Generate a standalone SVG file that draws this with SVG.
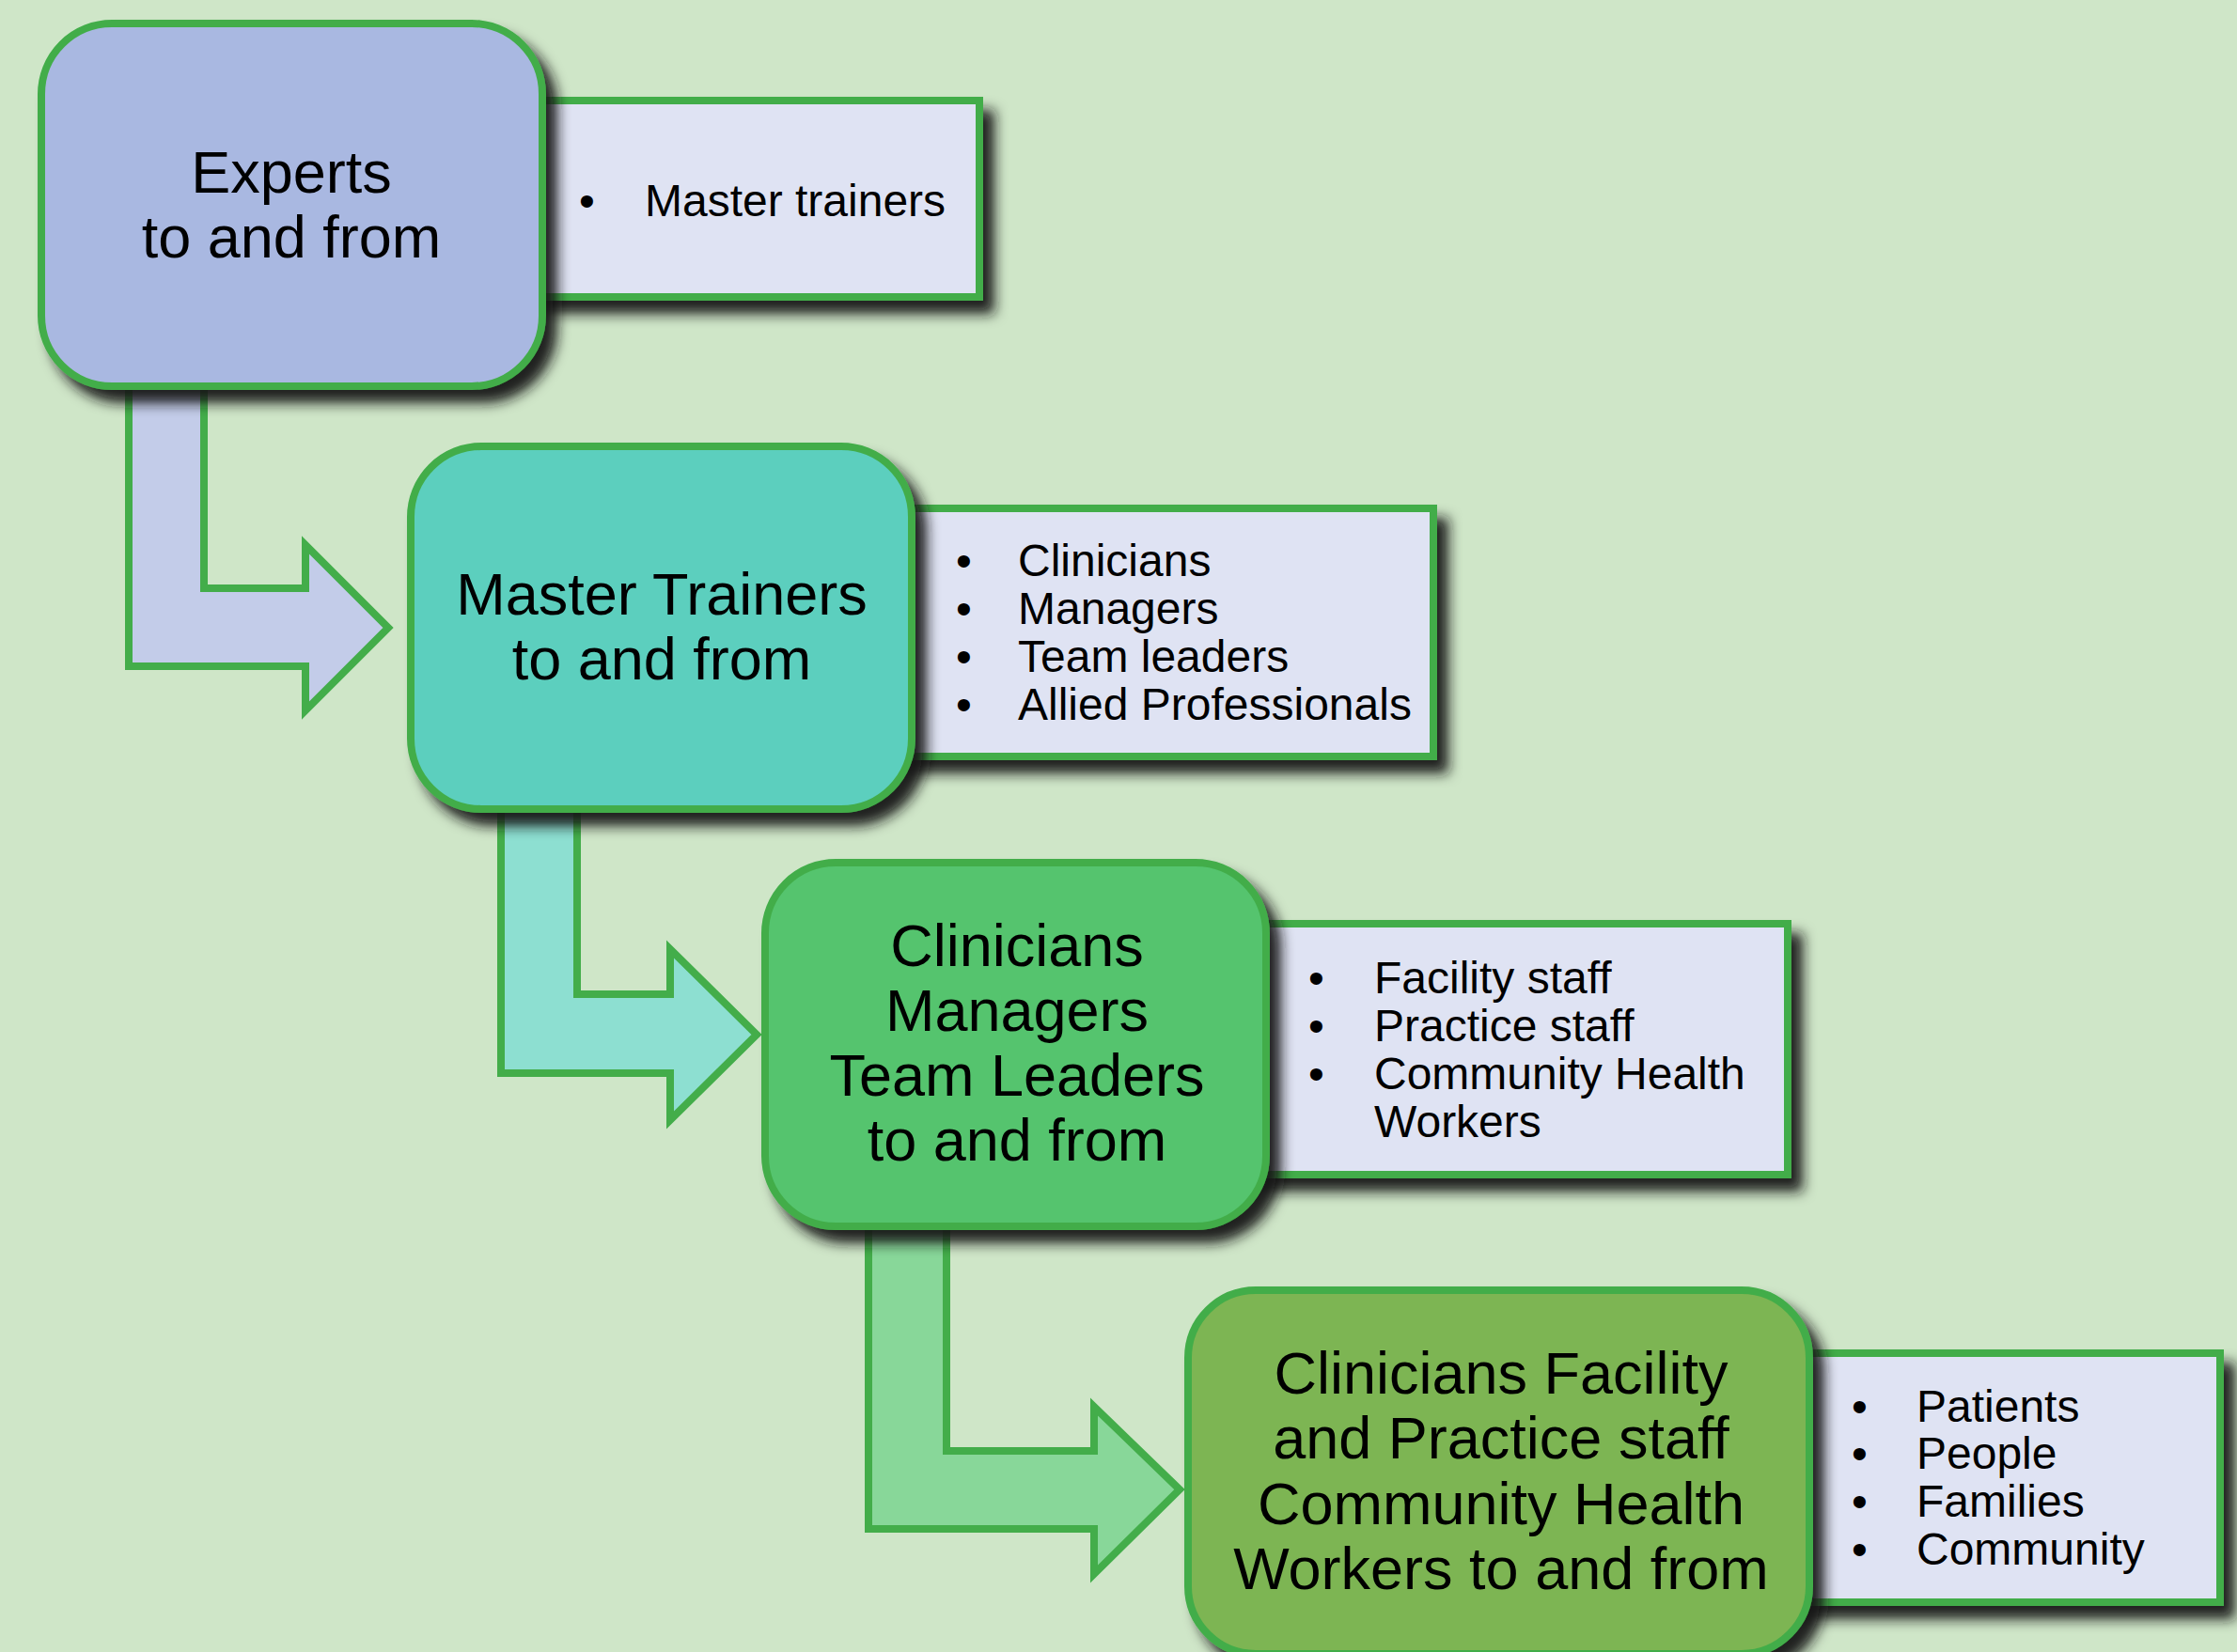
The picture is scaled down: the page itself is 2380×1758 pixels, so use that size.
<svg xmlns="http://www.w3.org/2000/svg" width="2380" height="1758" viewBox="0 0 2380 1758">
  <defs>
    <filter id="shadow" x="-10%" y="-10%" width="130%" height="130%">
      <feDropShadow dx="12" dy="14" stdDeviation="7" flood-color="#141414" flood-opacity="0.95"/>
    </filter>
    <style>
      .bg { fill: #cfe6c8; }
      .arrow { stroke: #43ad4a; stroke-width: 8; stroke-linejoin: miter; }
      .box { stroke: #43ad4a; stroke-width: 8; filter: url(#shadow); }
      .list { fill: #dfe3f3; stroke: #43ad4a; stroke-width: 8; filter: url(#shadow); }
      .title { font-family: "Liberation Sans", Arial, sans-serif; font-size: 63px; fill: #000; text-anchor: middle; }
      .item { font-family: "Liberation Sans", Arial, sans-serif; font-size: 48px; fill: #000; }
    </style>
  </defs>

  <rect class="bg" x="0" y="0" width="2380" height="1758"/>

  <g id="connectors">
    <polygon class="arrow" fill="#c3cce9" points="137,400 217,400 217,626 325,626 325,580 413,668 325,756 325,709 137,709"/>
    <polygon class="arrow" fill="#8ddfd1" points="533,852 614,852 614,1058 713,1058 713,1010 805,1101 713,1192 713,1142 533,1142"/>
    <polygon class="arrow" fill="#88d799" points="924,1297 1007,1297 1007,1544 1164,1544 1164,1497 1255,1585 1164,1675 1164,1627 924,1627"/>
  </g>

  <g id="list-experts">
    <rect class="list" x="555" y="107" width="487" height="209"/>
    <text class="item" x="616" y="230">•</text>
    <text class="item" x="686" y="230">Master trainers</text>
  </g>
  <g id="node-experts">
    <rect class="box" x="44" y="25" width="533" height="386" rx="75" ry="75" fill="#a9b8e1"/>
    <text class="title" x="310" y="205">Experts</text>
    <text class="title" x="310" y="274">to and from</text>
  </g>

  <g id="list-master-trainers">
    <rect class="list" x="948" y="541" width="577" height="264"/>
    <text class="item" x="1017" y="613">•</text>
    <text class="item" x="1083" y="613">Clinicians</text>
    <text class="item" x="1017" y="664">•</text>
    <text class="item" x="1083" y="664">Managers</text>
    <text class="item" x="1017" y="715">•</text>
    <text class="item" x="1083" y="715">Team leaders</text>
    <text class="item" x="1017" y="766">•</text>
    <text class="item" x="1083" y="766">Allied Professionals</text>
  </g>
  <g id="node-master-trainers">
    <rect class="box" x="437" y="475" width="533" height="386" rx="75" ry="75" fill="#5ccfbe"/>
    <text class="title" x="704" y="654">Master Trainers</text>
    <text class="title" x="704" y="723">to and from</text>
  </g>

  <g id="list-clinicians">
    <rect class="list" x="1325" y="983" width="577" height="267"/>
    <text class="item" x="1392" y="1057">•</text>
    <text class="item" x="1462" y="1057">Facility staff</text>
    <text class="item" x="1392" y="1108">•</text>
    <text class="item" x="1462" y="1108">Practice staff</text>
    <text class="item" x="1392" y="1159">•</text>
    <text class="item" x="1462" y="1159">Community Health</text>
    <text class="item" x="1462" y="1210">Workers</text>
  </g>
  <g id="node-clinicians">
    <rect class="box" x="814" y="918" width="533" height="387" rx="75" ry="75" fill="#54c46e"/>
    <text class="title" x="1082" y="1028">Clinicians</text>
    <text class="title" x="1082" y="1097">Managers</text>
    <text class="title" x="1082" y="1166">Team Leaders</text>
    <text class="title" x="1082" y="1235">to and from</text>
  </g>

  <g id="list-community">
    <rect class="list" x="1900" y="1440" width="462" height="265"/>
    <text class="item" x="1970" y="1513">•</text>
    <text class="item" x="2039" y="1513">Patients</text>
    <text class="item" x="1970" y="1563">•</text>
    <text class="item" x="2039" y="1563">People</text>
    <text class="item" x="1970" y="1614">•</text>
    <text class="item" x="2039" y="1614">Families</text>
    <text class="item" x="1970" y="1665">•</text>
    <text class="item" x="2039" y="1665">Community</text>
  </g>
  <g id="node-community">
    <rect class="box" x="1264" y="1373" width="661" height="387" rx="72" ry="72" fill="#7db552"/>
    <text class="title" x="1597" y="1483">Clinicians Facility</text>
    <text class="title" x="1597" y="1552">and Practice staff</text>
    <text class="title" x="1597" y="1622">Community Health</text>
    <text class="title" x="1597" y="1691">Workers to and from</text>
  </g>
</svg>
